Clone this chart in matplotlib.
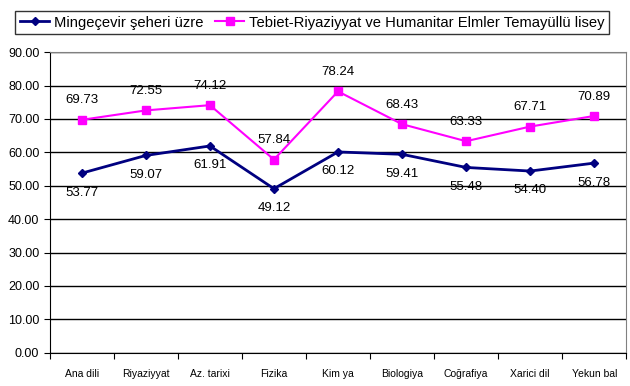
import matplotlib.pyplot as plt
import matplotlib.ticker as ticker

plt.rcParams['font.family'] = ['Liberation Sans', 'DejaVu Sans']

subjects = ['Ana dili', 'Riyaziyyat', 'Az. tarixi', 'Fizika', 'Kim ya',
            'Biologiya', 'Coğrafiya', 'Xarici dil', 'Yekun bal']
city = [53.77, 59.07, 61.91, 49.12, 60.12, 59.41, 55.48, 54.40, 56.78]
lyceum = [69.73, 72.55, 74.12, 57.84, 78.24, 68.43, 63.33, 67.71, 70.89]

fig = plt.figure(figsize=(6.3, 3.86), dpi=100)
ax = fig.add_axes([0.079, 0.086, 0.915, 0.779])

x = range(len(subjects))
ax.plot(x, city, color='#000080', marker='D', markersize=4.5, linewidth=2,
        label='Mingeçevir şeheri üzre')
ax.plot(x, lyceum, color='#FF00FF', marker='s', markersize=6, linewidth=1.5,
        label='Tebiet-Riyaziyyat ve Humanitar Elmler Temayüllü lisey')

# value labels: city below the points, lyceum above
for i, v in enumerate(city):
    ax.annotate(f'{v:.2f}', (i, v), xytext=(0, -14), textcoords='offset points',
                ha='center', va='center', fontsize=9.5)
for i, v in enumerate(lyceum):
    ax.annotate(f'{v:.2f}', (i, v), xytext=(0, 14), textcoords='offset points',
                ha='center', va='center', fontsize=9.5)

ax.set_xlim(-0.5, len(subjects) - 0.5)
ax.set_ylim(0, 90)
ax.yaxis.set_major_locator(ticker.MultipleLocator(10))
ax.yaxis.set_major_formatter(ticker.FormatStrFormatter('%.2f'))
ax.grid(axis='y', color='black', linewidth=1)
ax.set_axisbelow(True)

# ticks between categories, labels centred
ax.set_xticks([i - 0.5 for i in range(len(subjects) + 1)])
ax.set_xticklabels([])
ax.set_xticks(list(x), minor=True)
ax.set_xticklabels(subjects, minor=True, fontsize=7.5)
ax.tick_params(axis='x', which='minor', length=0, pad=12)
ax.tick_params(axis='x', which='major', length=4, color='black')
ax.tick_params(axis='y', labelsize=9, length=4)

for s in ['top', 'right']:
    ax.spines[s].set_color('gray')
for s in ['left', 'bottom']:
    ax.spines[s].set_color('black')

leg = fig.legend(loc='upper center', bbox_to_anchor=(0.4955, 0.99), ncol=2,
                 fontsize=10.6, frameon=True, fancybox=False, edgecolor='black',
                 handlelength=2, handletextpad=0.3, columnspacing=0.8,
                 borderpad=0.3, markerscale=0.9)
leg.get_frame().set_linewidth(1)

fig.savefig('out.png', dpi=100)
